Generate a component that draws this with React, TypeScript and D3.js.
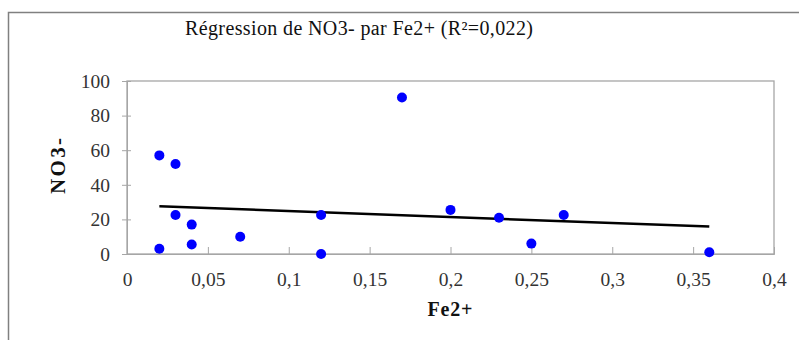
import * as d3 from "d3";
import { useEffect, useRef } from "react";

// Fe2+ (x) vs NO3- (y) readings
const fe2 = [0.02, 0.03, 0.03, 0.04, 0.02, 0.04, 0.07, 0.12, 0.12, 0.17, 0.2, 0.23, 0.25, 0.27, 0.36];
const no3 = [57, 52, 22.5, 17, 3, 5.5, 10, 22.5, 0, 90.5, 25.5, 21, 6, 22.5, 1];

const xTicks = [0, 0.05, 0.1, 0.15, 0.2, 0.25, 0.3, 0.35, 0.4];
const yTicks = [0, 20, 40, 60, 80, 100];

const title = "Régression de NO3- par Fe2+ (R²=0,022)";
const xTitle = "Fe2+";
const yTitle = "NO3-";

export default function App() {
  const containerRef = useRef<HTMLDivElement>(null);

  useEffect(() => {
    if (!containerRef.current) return;
    const container = containerRef.current;
    container.innerHTML = "";

    const width = 799;
    const height = 340;
    const margin = { top: 81, right: 25, bottom: 86, left: 127 };
    const innerWidth = width - margin.left - margin.right;
    const innerHeight = height - margin.top - margin.bottom;
    const font = "'Liberation Serif', 'DejaVu Serif', serif";
    const axisColor = "#a6a6a6";

    const svg = d3
      .select(container)
      .append("svg")
      .attr("width", width)
      .attr("height", height)
      .style("display", "block")
      .style("background", "white");

    // outer chart frame (cut off at the right and bottom)
    svg
      .append("rect")
      .attr("x", 8.5)
      .attr("y", 12.5)
      .attr("width", 820)
      .attr("height", 360)
      .attr("fill", "none")
      .attr("stroke", "#808080")
      .attr("stroke-width", 1.5);

    svg
      .append("text")
      .attr("x", 359)
      .attr("y", 35)
      .attr("text-anchor", "middle")
      .attr("textLength", 348)
      .style("font-family", font)
      .style("font-size", "20px")
      .style("fill", "#111")
      .text(title);

    const g = svg
      .append("g")
      .attr("transform", `translate(${margin.left},${margin.top})`);

    const x = d3.scaleLinear().domain([0, 0.4]).range([0, innerWidth]);
    const y = d3.scaleLinear().domain([0, 100]).range([innerHeight, 0]);

    // plot area box
    g.append("rect")
      .attr("x", 0)
      .attr("y", 0)
      .attr("width", innerWidth)
      .attr("height", innerHeight)
      .attr("fill", "none")
      .attr("stroke", axisColor)
      .attr("stroke-width", 1.3);

    // y axis
    const yAxis = g
      .append("g")
      .call(d3.axisLeft(y).tickValues(yTicks).tickSize(5).tickPadding(12));
    yAxis.select(".domain").attr("stroke", axisColor);
    yAxis.selectAll("line").attr("stroke", axisColor).attr("x2", -5);
    yAxis
      .selectAll(".tick line")
      .clone()
      .attr("x2", 4);
    yAxis
      .selectAll("text")
      .style("font-family", font)
      .style("font-size", "19.5px")
      .style("fill", "#333");

    // x axis
    const xAxis = g
      .append("g")
      .attr("transform", `translate(0,${innerHeight})`)
      .call(
        d3
          .axisBottom(x)
          .tickValues(xTicks)
          .tickSize(-7)
          .tickPadding(18)
          .tickFormat((d) => String(d).replace(".", ","))
      );
    xAxis.select(".domain").attr("stroke", axisColor);
    xAxis.selectAll("line").attr("stroke", axisColor);
    xAxis
      .selectAll("text")
      .style("font-family", font)
      .style("font-size", "19.5px")
      .style("fill", "#333");

    // regression line (least squares)
    const mx = d3.mean(fe2)!;
    const my = d3.mean(no3)!;
    const sxy = d3.sum(fe2, (v, i) => (v - mx) * (no3[i] - my));
    const sxx = d3.sum(fe2, (v) => (v - mx) * (v - mx));
    const slope = sxy / sxx;
    const intercept = my - slope * mx;
    const [x0, x1] = d3.extent(fe2) as [number, number];

    g.append("path")
      .datum([x0, x1])
      .attr("fill", "none")
      .attr("stroke", "#000")
      .attr("stroke-width", 2.5)
      .attr(
        "d",
        d3
          .line<number>()
          .x((d) => x(d))
          .y((d) => y(intercept + slope * d))
      );

    g.selectAll("circle")
      .data(fe2.map((v, i) => ({ fe: v, no: no3[i] })))
      .enter()
      .append("circle")
      .attr("cx", (d) => x(d.fe))
      .attr("cy", (d) => y(d.no))
      .attr("r", 5)
      .attr("fill", "#0000ff");

    svg
      .append("text")
      .attr("x", 450)
      .attr("y", 316)
      .attr("text-anchor", "middle")
      .attr("textLength", 45)
      .style("font-family", font)
      .style("font-weight", "bold")
      .style("font-size", "20px")
      .style("fill", "#111")
      .text(xTitle);

    svg
      .append("text")
      .attr("transform", "rotate(-90)")
      .attr("x", -166)
      .attr("y", 65)
      .attr("text-anchor", "middle")
      .attr("textLength", 56)
      .style("font-family", font)
      .style("font-weight", "bold")
      .style("font-size", "21px")
      .style("fill", "#111")
      .text(yTitle);
  }, []);

  return (
    <div
      ref={containerRef}
      style={{ position: "absolute", left: 0, top: 0 }}
    />
  );
}
